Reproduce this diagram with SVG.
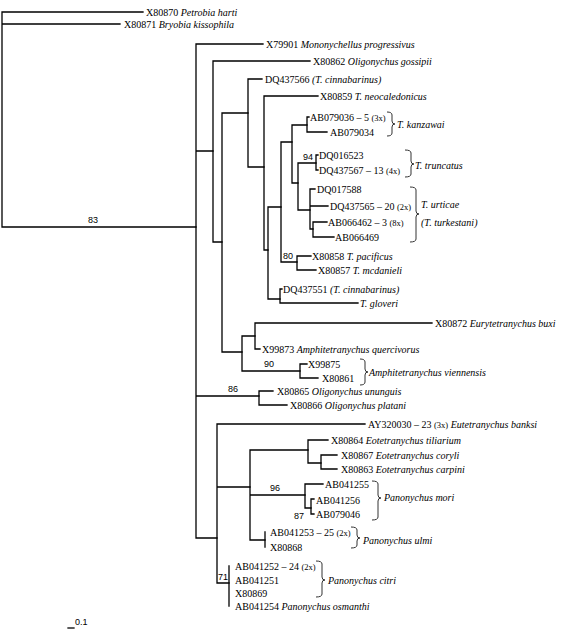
<svg xmlns="http://www.w3.org/2000/svg" width="568" height="632" viewBox="0 0 568 632">
<style>
.e{stroke:#000;stroke-width:1.3;fill:none;stroke-linecap:square}
.b{stroke:#333;stroke-width:1;fill:none}
text{font-family:"Liberation Serif","Times New Roman",serif;font-size:10px;fill:#000}
.i{font-style:italic}
.s{font-size:8.5px}
.n{font-family:"Liberation Sans",Arial,sans-serif;font-size:9px}
</style>
<rect width="568" height="632" fill="#fff"/>
<g id="edges" class="e">
<path d="M2 12V227M2 12H143M2 24H120M2 227H196"/>
<path d="M196 44V538M196 44H263M196 151H213M196 396H259M196 538H217"/>
<path d="M213 61V242M213 61H310M213 242H222"/>
<path d="M222 113V352M222 113H248M222 352H242"/>
<path d="M248 79V167M248 79H262M248 167H264"/>
<path d="M264 96V250M264 96H318M264 250H268"/>
<path d="M268 207V299M268 207H281M268 299H280"/>
<path d="M281 142V262M281 142H292M281 262H297"/>
<path d="M292 125V183M292 125H307M292 183H298"/>
<path d="M307 117V132M307 117H309M307 132H327"/>
<path d="M298 163V210M298 163H316M298 210H310"/>
<path d="M316 155V170M316 155H318M316 170H318"/>
<path d="M310 189V229M310 189H315M310 206H328M310 229H313"/>
<path d="M313 222V237M313 222H327M313 237H334"/>
<path d="M297 256V270M297 256H311M297 270H316"/>
<path d="M280 289V303M280 289H282M280 303H358"/>
<path d="M242 336V371M242 336H255M242 371H300"/>
<path d="M255 323V349M255 323H432M255 349H260"/>
<path d="M300 364V378M300 364H307M300 378H318"/>
<path d="M259 391V405M259 391H273M259 405H287"/>
<path d="M217 424V583M217 424H365M217 487H250M217 583H229"/>
<path d="M250 450V540M250 450H308M250 495H305M250 540H265"/>
<path d="M308 440V463M308 440H328M308 463H321"/>
<path d="M321 455V469M321 455H337M321 469H337"/>
<path d="M305 484V508M305 484H323M305 508H311"/>
<path d="M311 499V514M311 499H314M311 514H314"/>
<path d="M265 532V547"/>
<path d="M229 566V606"/>
<path d="M68 628H74"/>
</g>
<g id="brackets" class="b">
<path d="M387 112Q392 112 392 115V121Q392 124 395 124Q392 124 392 127V133Q392 136 387 136"/>
<path d="M405 150Q411 150 411 153V161Q411 164 414 164Q411 164 411 167V174Q411 177 405 177"/>
<path d="M410 187Q416 187 416 190V211Q416 214 419 214Q416 214 416 217V239Q416 242 410 242"/>
<path d="M360 359Q365 359 365 362V369Q365 372 368 372Q365 372 365 375V382Q365 385 360 385"/>
<path d="M372 481Q378 481 378 484V495Q378 498 381 498Q378 498 378 501V517Q378 520 372 520"/>
<path d="M351 527Q357 527 357 530V535Q357 538 360 538Q357 538 357 541V545Q357 548 351 548"/>
<path d="M316 561Q322 561 322 564V577Q322 580 325 580Q322 580 322 583V594Q322 597 316 597"/>
</g>
<g id="support">
<text class="n" x="88" y="223">83</text>
<text class="n" x="303" y="160">94</text>
<text class="n" x="283" y="259">80</text>
<text class="n" x="264" y="367">90</text>
<text class="n" x="228" y="392">86</text>
<text class="n" x="270" y="491">96</text>
<text class="n" x="294" y="519">87</text>
<text class="n" x="218" y="580">71</text>
<text class="n" x="75" y="625">0.1</text>
</g>
<g id="labels">
<text x="146" y="15.5">X80870 <tspan class="i">Petrobia harti</tspan></text>
<text x="124" y="27.5">X80871 <tspan class="i">Bryobia kissophila</tspan></text>
<text x="266" y="47.5">X79901 <tspan class="i">Mononychellus progressivus</tspan></text>
<text x="313" y="64.5">X80862 <tspan class="i">Oligonychus gossipii</tspan></text>
<text x="265" y="82.5">DQ437566 <tspan class="i">(T. cinnabarinus)</tspan></text>
<text x="320" y="99.5">X80859 <tspan class="i">T. neocaledonicus</tspan></text>
<text x="310" y="120.5">AB079036 – 5 <tspan class="s">(3x)</tspan></text>
<text x="330" y="135.5">AB079034</text>
<text class="i" x="397" y="127.5">T. kanzawai</text>
<text x="319" y="158.5">DQ016523</text>
<text x="319" y="173.5">DQ437567 – 13 <tspan class="s">(4x)</tspan></text>
<text class="i" x="415" y="168.5">T. truncatus</text>
<text x="317" y="192.5">DQ017588</text>
<text x="330" y="209.5">DQ437565 – 20 <tspan class="s">(2x)</tspan></text>
<text x="328" y="225.5">AB066462 – 3 <tspan class="s">(8x)</tspan></text>
<text x="335" y="240.5">AB066469</text>
<text class="i" x="421" y="207.5">T. urticae</text>
<text class="i" x="421" y="226">(T. turkestani)</text>
<text x="312" y="259.5">X80858 <tspan class="i">T. pacificus</tspan></text>
<text x="318" y="273.5">X80857 <tspan class="i">T. mcdanieli</tspan></text>
<text x="283" y="292.5">DQ437551 <tspan class="i">(T. cinnabarinus)</tspan></text>
<text class="i" x="360" y="306.5">T. gloveri</text>
<text x="435" y="326.5">X80872 <tspan class="i">Eurytetranychus buxi</tspan></text>
<text x="262" y="352.5">X99873 <tspan class="i">Amphitetranychus quercivorus</tspan></text>
<text x="308" y="367.5">X99875</text>
<text x="322" y="381.5">X80861</text>
<text class="i" x="369" y="375.5">Amphitetranychus viennensis</text>
<text x="277" y="394.5">X80865 <tspan class="i">Oligonychus ununguis</tspan></text>
<text x="290" y="408.5">X80866 <tspan class="i">Oligonychus platani</tspan></text>
<text x="368" y="427.5">AY320030 – 23 <tspan class="s">(3x)</tspan> <tspan class="i">Eutetranychus banksi</tspan></text>
<text x="331" y="443.5">X80864 <tspan class="i">Eotetranychus tiliarium</tspan></text>
<text x="341" y="458.5">X80867 <tspan class="i">Eotetranychus coryli</tspan></text>
<text x="341" y="472.5">X80863 <tspan class="i">Eotetranychus carpini</tspan></text>
<text x="325" y="487.5">AB041255</text>
<text x="316" y="503.5">AB041256</text>
<text x="316" y="517.5">AB079046</text>
<text class="i" x="384" y="500.5">Panonychus mori</text>
<text x="270" y="535.5">AB041253 – 25 <tspan class="s">(2x)</tspan></text>
<text x="270" y="550.5">X80868</text>
<text class="i" x="363" y="543.5">Panonychus ulmi</text>
<text x="235" y="569.5">AB041252 – 24 <tspan class="s">(2x)</tspan></text>
<text x="235" y="583.5">AB041251</text>
<text x="235" y="596.5">X80869</text>
<text x="235" y="609.5">AB041254 <tspan class="i">Panonychus osmanthi</tspan></text>
<text class="i" x="328" y="583.5">Panonychus citri</text>
</g>
</svg>
